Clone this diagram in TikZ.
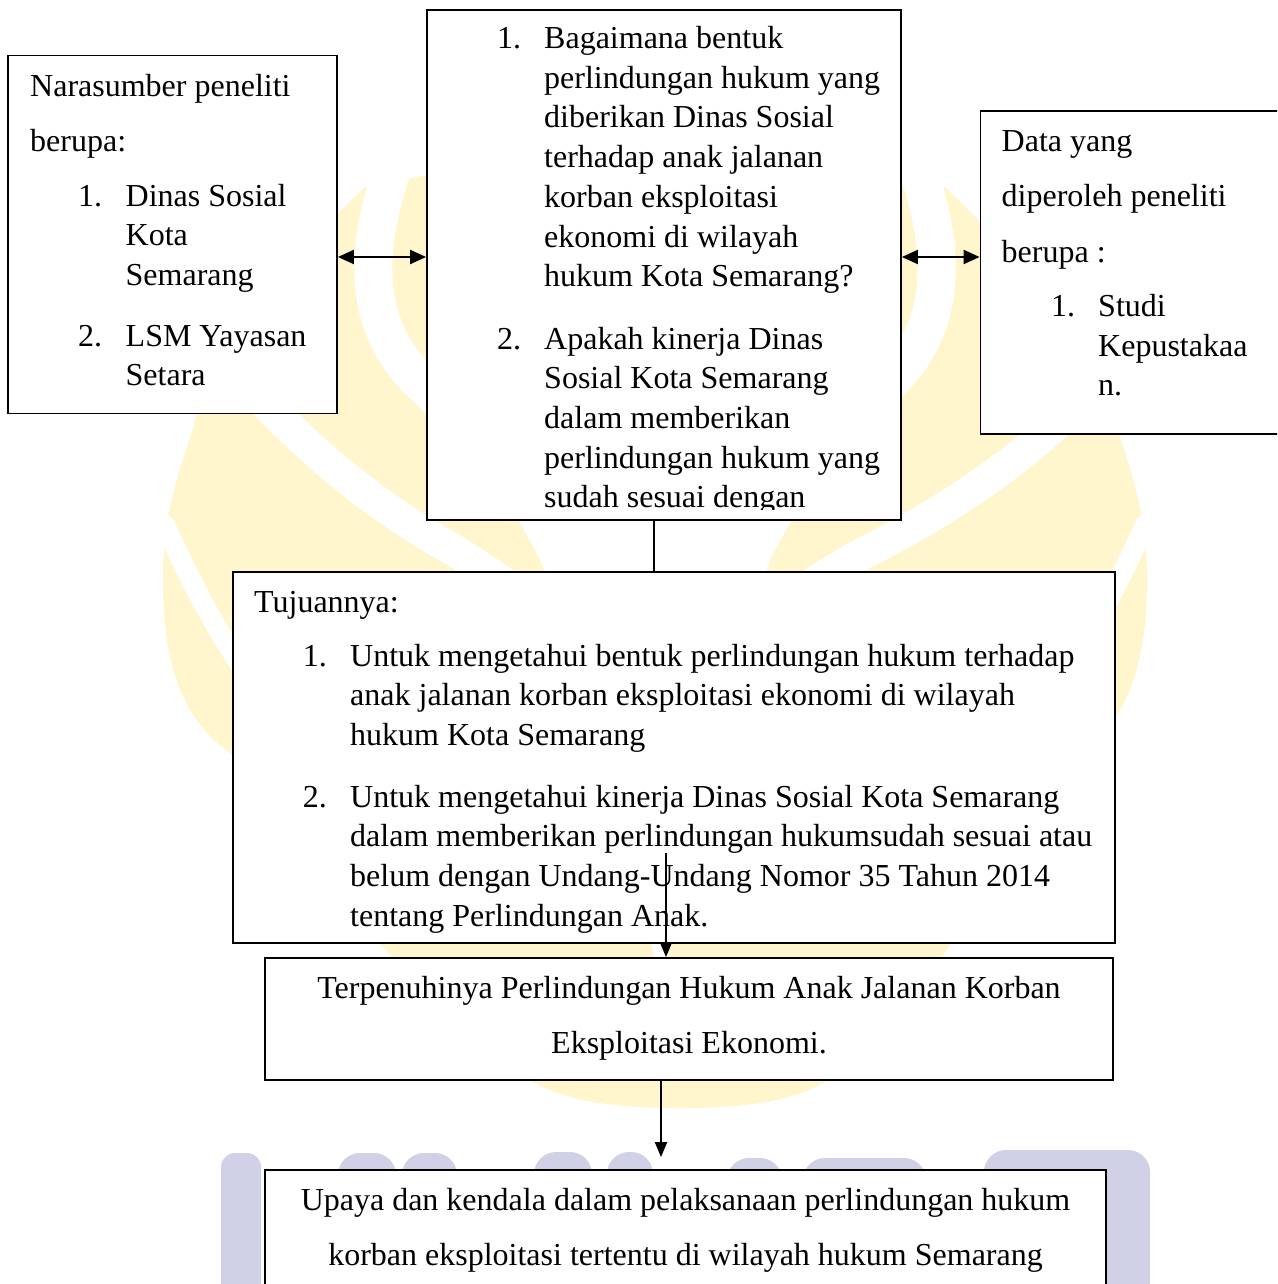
\documentclass[tikz,border=0pt]{standalone}
\usepackage{fontspec}
\setmainfont{Liberation Serif}
\usetikzlibrary{calc,arrows.meta}
\definecolor{markYellow}{RGB}{255,246,206}
\definecolor{markBlue}{RGB}{208,208,230}
\newcommand{\bodyfont}{\fontsize{32}{39.7}\selectfont}

\begin{document}
\begin{tikzpicture}[x=1pt,y=-1pt,
  panel/.style={draw=black,fill=white,line width=1.8pt,inner sep=0pt},
  line/.style={anchor=base west,inner sep=0pt,font=\bodyfont},
  cline/.style={anchor=base,inner sep=0pt,font=\bodyfont},
  link/.style={line width=2pt},
  both/.style={link,{Triangle[length=16pt,width=14pt]}-{Triangle[length=16pt,width=14pt]}},
  down/.style={link,-{Triangle[length=15pt,width=12pt]}},
  gap/.style={draw=white,line cap=round}]
  \useasboundingbox (0,0) rectangle (1277,1284);
  \clip (0,0) rectangle (1277,1284);
  \def\step{39.7}

  % watermark behind the chart
  \fill[markYellow] (365,187) .. controls (300,250) and (215,340) .. (197,413)
    .. controls (185,460) and (163,500) .. (163,580)
    .. controls (163,660) and (180,720) .. (233,755)
    .. controls (330,880) and (460,1070) .. (571,1097)
    .. controls (620,1112) and (740,1112) .. (788,1097)
    .. controls (900,1070) and (980,880) .. (1077,755)
    .. controls (1130,720) and (1147,660) .. (1147,580)
    .. controls (1147,500) and (1125,460) .. (1113,413)
    .. controls (1095,340) and (1010,250) .. (945,187)
    -- (883,175) -- (427,175) -- cycle;
  \fill[white] (440,172) .. controls (400,350) and (500,480) .. (540,560)
    .. controls (590,680) and (640,850) .. (660,1000)
    .. controls (680,850) and (730,680) .. (770,560)
    .. controls (810,480) and (910,350) .. (870,172) -- cycle;
  \draw[gap,line width=38pt] (392,170) .. controls (365,250) and (360,330) .. (427,388)
    .. controls (480,440) and (540,500) .. (580,560);
  \draw[gap,line width=38pt] (918,170) .. controls (945,250) and (950,330) .. (883,388)
    .. controls (830,440) and (770,500) .. (730,560);
  \draw[gap,line width=32pt] (200,330) .. controls (260,400) and (330,480) .. (450,548)
    .. controls (520,590) and (580,640) .. (620,700);
  \draw[gap,line width=32pt] (1125,350) .. controls (1070,420) and (990,490) .. (860,555)
    .. controls (790,595) and (730,640) .. (690,700);
  \draw[gap,line width=20pt] (165,525) .. controls (190,580) and (210,620) .. (250,680);
  \draw[gap,line width=20pt] (1145,525) .. controls (1120,580) and (1100,620) .. (1060,680);
  \foreach \xa/\xb/\yt in {338/396/1153,402/457/1153,534/592/1152,607/653/1152,727/782/1158,803/926/1158,984/1150/1150}
    \fill[markBlue,rounded corners=22pt] (\xa,1320) -- (\xa,\yt) -- (\xb,\yt) -- (\xb,1320);
  \fill[markBlue,rounded corners=14pt] (221,1320) -- (221,1153) -- (261,1153) -- (261,1320);

  % boxes
  \node[panel,minimum width=329pt,minimum height=358pt] (src) at (172.5,234.5) {};
  \node[panel,minimum width=474pt,minimum height=510pt] (cen) at (664,265) {};
  \node[panel,minimum width=320pt,minimum height=323pt] (dat) at (1140.5,272.5) {};
  \node[panel,minimum width=882pt,minimum height=371pt] (goal) at (674,757.5) {};
  \node[panel,minimum width=848pt,minimum height=122pt] (res) at (689,1019) {};
  \node[panel,minimum width=841pt,minimum height=140pt] (fin) at (685.5,1240) {};

  % left box
  \node[line] (src-h1) at (30,96.5) {Narasumber peneliti};
  \node[line] (src-h2) at (30,151.5) {berupa:};
  \node[line] (src-n1) at (78,206) {1.};
  \foreach \t [count=\i] in {Dinas Sosial,Kota,Semarang}
    \node[line] (src-a\i) at (125.5,{206+\step*(\i-1)}) {\t};
  \node[line] (src-n2) at (78,346) {2.};
  \foreach \t [count=\i] in {LSM Yayasan,Setara}
    \node[line] (src-b\i) at (125.5,{346+\step*(\i-1)}) {\t};

  % middle box, last line cut by the frame
  \begin{scope}
    \clip (427,10) rectangle (901,509);
    \node[line] (cen-n1) at (497,48.5) {1.};
    \foreach \t [count=\i] in {Bagaimana bentuk,perlindungan hukum yang,diberikan Dinas Sosial,terhadap anak jalanan,korban eksploitasi,ekonomi di wilayah,hukum Kota Semarang?}
      \node[line] (cen-a\i) at (544,{48.5+\step*(\i-1)}) {\t};
    \node[line] (cen-n2) at (497,349) {2.};
    \foreach \t [count=\i] in {Apakah kinerja Dinas,Sosial Kota Semarang,dalam memberikan,perlindungan hukum yang,sudah sesuai dengan}
      \node[line] (cen-b\i) at (544,{349+\step*(\i-1)}) {\t};
  \end{scope}

  % right box
  \node[line] (dat-h1) at (1001.5,152) {Data yang};
  \node[line] (dat-h2) at (1001.5,207) {diperoleh peneliti};
  \node[line] (dat-h3) at (1001.5,262) {berupa :};
  \node[line] (dat-n1) at (1051,316.5) {1.};
  \foreach \t [count=\i] in {Studi,Kepustakaa,n.}
    \node[line] (dat-a\i) at (1098,{316.5+\step*(\i-1)}) {\t};

  % aims
  \node[line] (goal-h) at (254,612) {Tujuannya:};
  \node[line] (goal-n1) at (302.7,666) {1.};
  \foreach \t [count=\i] in {Untuk mengetahui bentuk perlindungan hukum terhadap,anak jalanan korban eksploitasi ekonomi di wilayah,hukum Kota Semarang}
    \node[line] (goal-a\i) at (350,{666+\step*(\i-1)}) {\t};
  \node[line] (goal-n2) at (302.7,807) {2.};
  \foreach \t [count=\i] in {Untuk mengetahui kinerja Dinas Sosial Kota Semarang,dalam memberikan perlindungan hukumsudah sesuai atau,belum dengan Undang-Undang Nomor 35 Tahun 2014,tentang Perlindungan Anak.}
    \node[line] (goal-b\i) at (350,{807+\step*(\i-1)}) {\t};

  % outcome and follow-up
  \node[cline] (res-1) at (689,998) {Terpenuhinya Perlindungan Hukum Anak Jalanan Korban};
  \node[cline] (res-2) at (689,1053) {Eksploitasi Ekonomi.};
  \node[cline] (fin-1) at (685.5,1210) {Upaya dan kendala dalam pelaksanaan perlindungan hukum};
  \node[cline] (fin-2) at (685.5,1265) {korban eksploitasi tertentu di wilayah hukum Semarang};

  % connectors
  \coordinate (arm) at (0,257);
  \coordinate (stem) at (654,0);
  \coordinate (tail) at (666,853);
  \coordinate (drop) at (661,0);
  \draw[both] (src.east |- arm) -- (cen.west |- arm);
  \draw[both] (cen.east |- arm) -- (dat.west |- arm);
  \draw[link] (cen.south -| stem) -- (goal.north -| stem);
  \draw[down] (tail) -- (res.north -| tail);
  \draw[down] (res.south -| drop) -- ($(fin.north -| drop)+(0,-12)$);
\end{tikzpicture}
\end{document}
